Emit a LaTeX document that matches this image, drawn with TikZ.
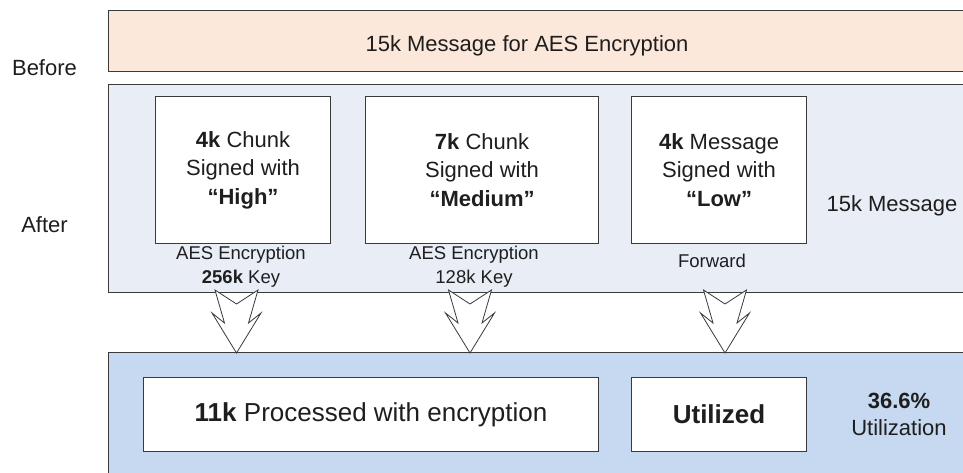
\documentclass[tikz,border=0pt]{standalone}
\usepackage{fontspec}
\setmainfont{Liberation Sans}
\definecolor{peach}{HTML}{FCE8DB}
\definecolor{paleblue}{HTML}{E8EDF6}
\definecolor{midblue}{HTML}{C6D9F0}
\definecolor{edge}{HTML}{3A3A3A}
\definecolor{ink}{HTML}{1E1E1E}
\begin{document}
\begin{tikzpicture}[x=1pt,y=-1pt,
  band/.style={draw=edge, line width=1.4pt, anchor=north west, inner sep=0pt},
  card/.style={draw=edge, line width=1.1pt, fill=white, anchor=north west, inner sep=0pt, align=center, text=ink},
  big/.style={font=\fontsize{22}{28.5}\selectfont},
  huge/.style={font=\fontsize{26}{30}\selectfont},
  small/.style={font=\fontsize{18.5}{24}\selectfont},
  txt/.style={text=ink, align=center, inner sep=0pt},
  chevron/.style={draw=edge, line width=0.8pt, fill=white, line join=miter}
]
\useasboundingbox (0,0) rectangle (963,473);
\clip (0,0) rectangle (963,473);
\tikzset{downchev/.pic={\draw[chevron] (-21.5,0) -- (0,14) -- (21.5,0) -- (12,33) -- (24.5,23) -- (0,63) -- (-24.5,23) -- (-12,33) -- cycle;}}

% bands
\node[band, fill=peach, minimum width=870pt, minimum height=61pt] (before) at (108,10) {};
\node[band, fill=paleblue, minimum width=870pt, minimum height=208pt] (after) at (108,84) {};
\node[band, fill=midblue, minimum width=870pt, minimum height=140pt] (result) at (108,352) {};

% side labels
\node[txt, big] (lbefore) at (44.5,68) {Before};
\node[txt, big] (lafter) at (44.5,225) {After};
\node[txt, big] (title) at (527,46) {15k Message for AES Encryption};
\node[txt, big] (whole) at (892,206) {15k Message};

% chunk cards
\node[card, big, minimum width=175pt, minimum height=147pt] (c1) at (155,96) {\textbf{4k} Chunk\\Signed with\\\textbf{“High”}};
\node[card, big, minimum width=233pt, minimum height=147pt] (c2) at (365,96) {\textbf{7k} Chunk\\Signed with\\\textbf{“Medium”}};
\node[card, big, minimum width=175pt, minimum height=147pt] (c3) at (631,96) {\textbf{4k} Message\\Signed with\\\textbf{“Low”}};

% labels under cards
\node[txt, small] (l1) at (241,267) {AES Encryption\\\textbf{256k} Key};
\node[txt, small] (l2) at (474,267) {AES Encryption\\128k Key};
\node[txt, small] (l3) at (712,261) {Forward};

% result cards
\node[card, huge, minimum width=455pt, minimum height=74pt] (r1) at (143,377) {\textbf{11k} Processed with encryption};
\node[card, huge, minimum width=175pt, minimum height=74pt] (r2) at (631,377) {\textbf{Utilized}};
\node[txt, big, font=\fontsize{22}{27}\selectfont] (util) at (899,414.5) {\textbf{36.6\%}\\Utilization};

% block arrows
\coordinate (a1) at (236.5,290);
\coordinate (a2) at (470,290);
\coordinate (a3) at (725,290);
\pic at (a1) {downchev};
\pic at (a2) {downchev};
\pic at (a3) {downchev};
\end{tikzpicture}
\end{document}
